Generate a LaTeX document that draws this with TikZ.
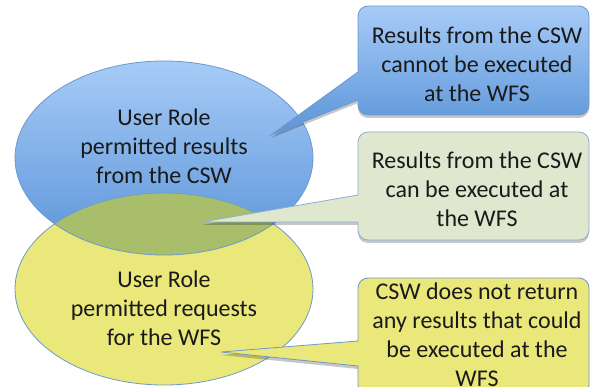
\documentclass[tikz,border=0pt]{standalone}
\usepackage{fontspec}
\setmainfont{Carlito}
\usetikzlibrary{shadows}
\definecolor{bluetop}{HTML}{A7CBF7}
\definecolor{bluebot}{HTML}{5A94D8}
\definecolor{edgeblue}{HTML}{6D9ACB}
\definecolor{yel}{HTML}{EAE77B}
\definecolor{olive}{HTML}{A9BE6A}
\definecolor{palegreen}{HTML}{DFE7CF}
\definecolor{txtcol}{HTML}{1A1A1A}
\begin{document}
\begin{tikzpicture}[x=1pt,y=-1pt,
  txt/.style={font=\fontsize{24}{29}\selectfont, align=center, text=txtcol, inner sep=0pt},
  outline/.style={draw=edgeblue, line width=0.8pt},
  shad/.style={drop shadow={shadow xshift=0pt, shadow yshift=-3pt, opacity=0.22, fill=black}}]
\useasboundingbox (0,0) rectangle (591,387);
% ellipses
\shade[top color=bluetop, bottom color=bluebot] (164,158) ellipse [x radius=149, y radius=97];
\fill[yel] (164,289) ellipse [x radius=149, y radius=96];
\begin{scope}
  \clip (164,158) ellipse [x radius=149, y radius=97];
  \fill[olive] (164,289) ellipse [x radius=149, y radius=96];
\end{scope}
\draw[outline] (164,158) ellipse [x radius=149, y radius=97];
\draw[outline] (164,289) ellipse [x radius=149, y radius=96];
\node[txt] (setA) at (164,146) {User Role\\permitted results\\from the CSW};
\node[txt] (setB) at (164,308) {User Role\\permitted requests\\for the WFS};
% callout 1
\shade[top color=bluetop, bottom color=bluebot, outline, shad]
  (474,6) [rounded corners=10pt] -- (589,6) -- (589,115) -- (358,115) [sharp corners] -- (358,100) -- (271,135) -- (358,72) [rounded corners=10pt] -- (358,6) -- cycle;
\node[txt] (c1) at (477,64) {Results from the CSW\\cannot be executed\\at the WFS};
% callout 2
\path[fill=palegreen, draw=edgeblue!80, line width=0.8pt, shad]
  (474,132) [rounded corners=10pt] -- (589,132) -- (589,240) -- (358,240) [sharp corners] -- (358,222) -- (202,222) -- (358,195) [rounded corners=10pt] -- (358,132) -- cycle;
\node[txt] (c2) at (477,189) {Results from the CSW\\can be executed at\\the WFS};
% callout 3
\path[fill=yel, outline, shad]
  (474,278) [rounded corners=10pt] -- (589,278) -- (589,395) -- (358,395) [sharp corners] -- (358,366) -- (221,352) -- (358,341) [rounded corners=10pt] -- (358,278) -- cycle;
\node[txt] (c3) at (477,335) {CSW does not return\\any results that could\\be executed at the\\WFS};
\end{tikzpicture}
\end{document}
